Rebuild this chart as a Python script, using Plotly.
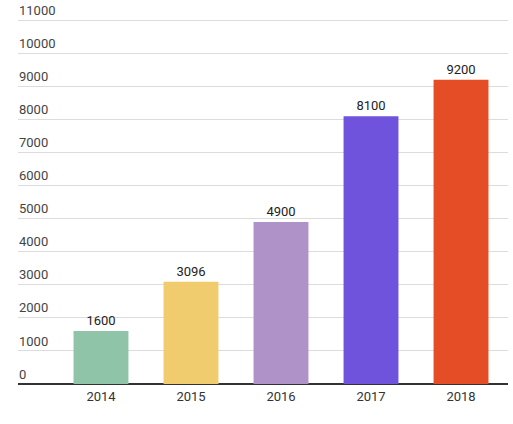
import plotly.graph_objects as go

years = ["2014", "2015", "2016", "2017", "2018"]
values = [1600, 3096, 4900, 8100, 9200]
colors = ["#8fc4a8", "#f0cc6e", "#ae92c8", "#6f53dc", "#e54d26"]
y_ticks = list(range(0, 12000, 1000))

fig = go.Figure(
    go.Bar(
        x=list(range(len(years))),
        y=values,
        marker=dict(color=colors, line=dict(width=0)),
        width=0.61,
        text=[str(v) for v in values],
        textposition="outside",
        textfont=dict(family="Roboto", size=13, color="#222"),
        cliponaxis=False,
    )
)

fig.update_layout(
    width=513,
    height=424,
    margin=dict(l=18, r=5, t=17, b=40),
    paper_bgcolor="white",
    plot_bgcolor="white",
    showlegend=False,
    font=dict(family="Roboto", size=13, color="#444"),
    xaxis=dict(
        range=[-0.922, 4.522],
        tickmode="array",
        tickvals=list(range(len(years))),
        ticktext=years,
        showgrid=False,
        zeroline=False,
        showline=False,
        ticks="",
        ticklabelstandoff=3,
        automargin=False,
        tickfont=dict(size=13, color="#333"),
    ),
    yaxis=dict(
        range=[0, 11100],
        tickmode="array",
        tickvals=y_ticks,
        ticktext=[str(v) for v in y_ticks],
        ticklabelposition="inside",
        ticklabeloverflow="allow",
        ticklabelshift=-10,
        ticklabelstandoff=-2,
        ticks="",
        automargin=False,
        showgrid=True,
        gridcolor="#dcdcdc",
        gridwidth=1,
        zeroline=True,
        zerolinecolor="#333",
        zerolinewidth=2,
        tickfont=dict(size=13, color="#444"),
    ),
)

# drop the default 8px body margin so the figure sits at the window's corner
fig.write_html(
    "out.html",
    config={"displayModeBar": False},
    post_script="document.body.style.margin='0';",
)
